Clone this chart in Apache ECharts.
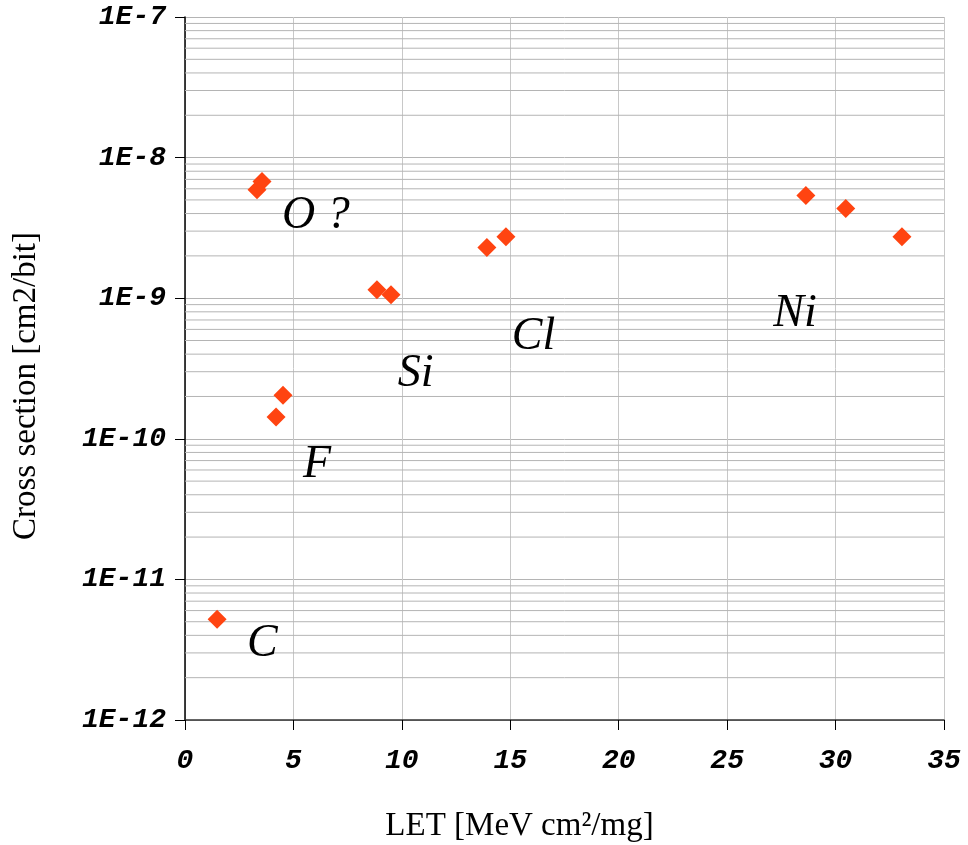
<!DOCTYPE html>
<html>
<head>
<meta charset="utf-8">
<script src="https://cdn.jsdelivr.net/npm/echarts@6/dist/echarts.min.js"></script>
<style>html,body{margin:0;padding:0;background:#fff}#c{width:968px;height:845px}</style>
</head>
<body>
<div id="c"></div>
<script>
// Data
const letValues = [1.48, 3.32, 3.55, 4.2, 4.52, 8.85, 9.5, 13.92, 14.8, 28.63, 30.47, 33.06];
const crossSections = [5.2e-12, 5.9e-9, 6.75e-9, 1.43e-10, 2.04e-10, 1.15e-9, 1.06e-9, 2.29e-9, 2.74e-9, 5.37e-9, 4.34e-9, 2.74e-9];
const ionLabels = ['C', 'O ?', 'F', 'Si', 'Cl', 'Ni'];
const ionLabelLet = [3.57, 6.04, 6.09, 10.63, 16.07, 28.13];
const ionLabelCs = [3.74e-12, 4.13e-9, 6.98e-11, 3.08e-10, 5.64e-10, 8.2e-10];
const xTicks = [0, 5, 10, 15, 20, 25, 30, 35];
const yDecades = [1e-12, 1e-11, 1e-10, 1e-9, 1e-8, 1e-7];
const minorMultipliers = [2, 3, 4, 5, 6, 7, 8, 9];

const xMin = xTicks[0], xMax = xTicks[xTicks.length - 1];
const minorValues = [];
yDecades.slice(0, -1).forEach(d => minorMultipliers.forEach(m => minorValues.push(d * m)));
const minorSeries = minorValues.map(v => ({
  type: 'line', silent: true, symbol: 'none', z: 1, animation: false,
  lineStyle: { color: '#b4b4b4', width: 1 },
  data: [[xMin, v], [xMax, v]]
}));

const chart = echarts.init(document.getElementById('c'));
const tickFont = { fontFamily: 'Liberation Mono', fontStyle: 'italic', fontWeight: 'bold', fontSize: 28, color: '#000' };
chart.setOption({
  animation: false,
  grid: { left: 185, right: 24, top: 17, bottom: 125, containLabel: false, outerBoundsMode: 'none' },
  xAxis: {
    type: 'value', min: xMin, max: xMax, interval: 5,
    name: 'LET [MeV cm²/mg]', nameLocation: 'middle', nameGap: 90,
    nameTextStyle: { fontFamily: 'Liberation Serif', fontSize: 33, color: '#000', padding: [0, 90, 0, 0] },
    axisLine: { lineStyle: { color: '#333', width: 1.5 } },
    axisTick: { show: true, length: 10, lineStyle: { color: '#000' } },
    axisLabel: Object.assign({ margin: 27 }, tickFont),
    splitLine: { show: true, lineStyle: { color: '#c8c8c8', width: 1 } }
  },
  yAxis: {
    type: 'log', logBase: 10, min: yDecades[0], max: yDecades[yDecades.length - 1],
    name: 'Cross section [cm2/bit]', nameLocation: 'middle', nameGap: 142,
    nameTextStyle: { fontFamily: 'Liberation Serif', fontSize: 33, color: '#000', padding: [0, 35, 0, 0] },
    axisLine: { show: true, lineStyle: { color: '#000', width: 1.5 } },
    axisTick: { show: true, length: 10, lineStyle: { color: '#000' } },
    axisLabel: Object.assign({ margin: 19, formatter: v => '1E' + Math.round(Math.log10(v)) }, tickFont),
    splitLine: { show: true, lineStyle: { color: '#b4b4b4', width: 1 } }
  },
  series: minorSeries.concat([
    {
      type: 'scatter',
      symbol: 'diamond',
      symbolSize: 19,
      itemStyle: { color: '#ff4411', opacity: 1 },
      data: letValues.map((x, i) => [x, crossSections[i]]),
      z: 5
    },
    {
      type: 'scatter',
      symbolSize: 0,
      silent: true,
      itemStyle: { opacity: 1 },
      data: ionLabels.map((t, i) => ({ value: [ionLabelLet[i], ionLabelCs[i]], name: t })),
      label: {
        show: true, position: 'inside', formatter: p => p.name, offset: [0, 4],
        fontFamily: 'Liberation Serif', fontStyle: 'italic', fontSize: 46, color: '#000',
        opacity: 1, align: 'center', verticalAlign: 'middle'
      },
      z: 6
    }
  ])
});
</script>
</body>
</html>
